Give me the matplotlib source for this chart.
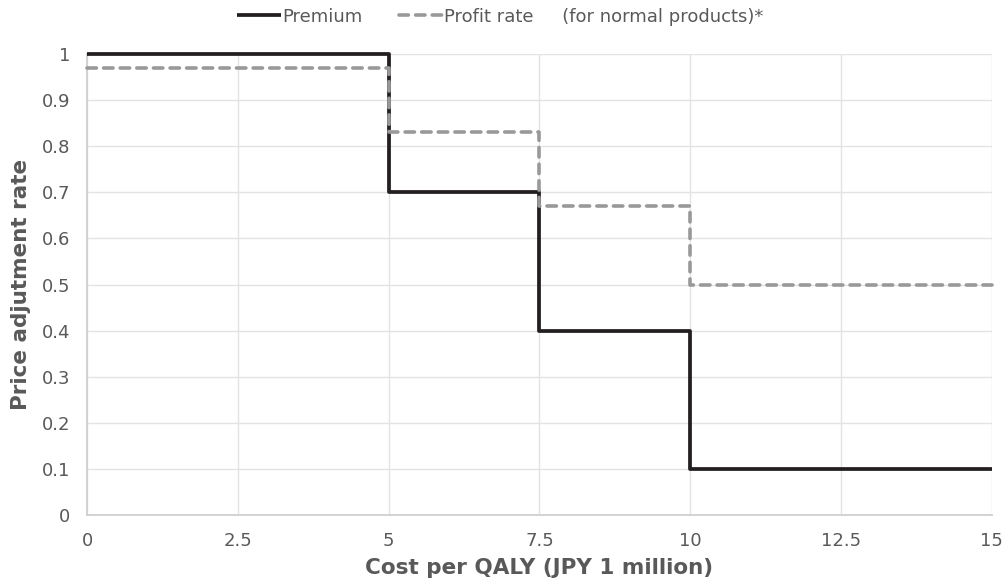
import numpy as np
import matplotlib.pyplot as plt

plt.rcParams['font.family'] = ['DejaVu Sans']

# step boundaries (cost per QALY, JPY 1 million)
x_steps = [0, 5, 7.5, 10, 15]
premium = [1.0, 0.7, 0.4, 0.1]
profit_rate = [0.97, 0.83, 0.67, 0.5]

x_ticks = [0, 2.5, 5, 7.5, 10, 12.5, 15]
x_ticklabels = ['0', '2.5', '5', '7.5', '10', '12.5', '15']
y_ticks = [0, 0.1, 0.2, 0.3, 0.4, 0.5, 0.6, 0.7, 0.8, 0.9, 1]
y_ticklabels = ['0', '0.1', '0.2', '0.3', '0.4', '0.5', '0.6', '0.7', '0.8', '0.9', '1']

txt = '#595959'

fig = plt.figure(figsize=(10.05, 5.81), dpi=100)
ax = fig.add_axes([0.0866, 0.1136, 0.9004, 0.7934])

# repeat last value so the final step reaches x = 15
ax.step(x_steps, premium + premium[-1:], where='post', color='#231f20',
        lw=2.7, label='Premium', zorder=3, clip_on=False,
        solid_capstyle='butt')
ax.step(x_steps, profit_rate + profit_rate[-1:], where='post', color='#999999',
        lw=2.6, dashes=(2.6, 2.0), dash_capstyle='round',
        label='Profit rate     (for normal products)*', zorder=4, clip_on=False)

ax.set_xlim(0, 15)
ax.set_ylim(0, 1)
ax.set_xticks(x_ticks)
ax.set_xticklabels(x_ticklabels)
ax.set_yticks(y_ticks)
ax.set_yticklabels(y_ticklabels)
ax.grid(True, color='#e3e3e3', lw=1)
ax.set_axisbelow(True)
for s in ['top', 'right']:
    ax.spines[s].set_visible(False)
for s in ['left', 'bottom']:
    ax.spines[s].set_color('#d0d0d0')
    ax.spines[s].set_linewidth(1.3)
ax.tick_params(length=0, labelsize=13, colors=txt)
ax.tick_params(axis='y', pad=12)
ax.tick_params(axis='x', pad=12)

ax.set_xlabel('Cost per QALY (JPY 1 million)', fontsize=15.5, fontweight='bold',
              color=txt, labelpad=6)
ax.set_ylabel('Price adjutment rate', fontsize=15.5, fontweight='bold',
              color=txt, labelpad=8)

leg = fig.legend(loc='upper center', bbox_to_anchor=(0.498, 1.015), ncol=2,
                 frameon=False, fontsize=13, handlelength=2.4, handletextpad=0.1,
                 columnspacing=2.0)
for t in leg.get_texts():
    t.set_color(txt)

fig.savefig('out.png', dpi=100)
